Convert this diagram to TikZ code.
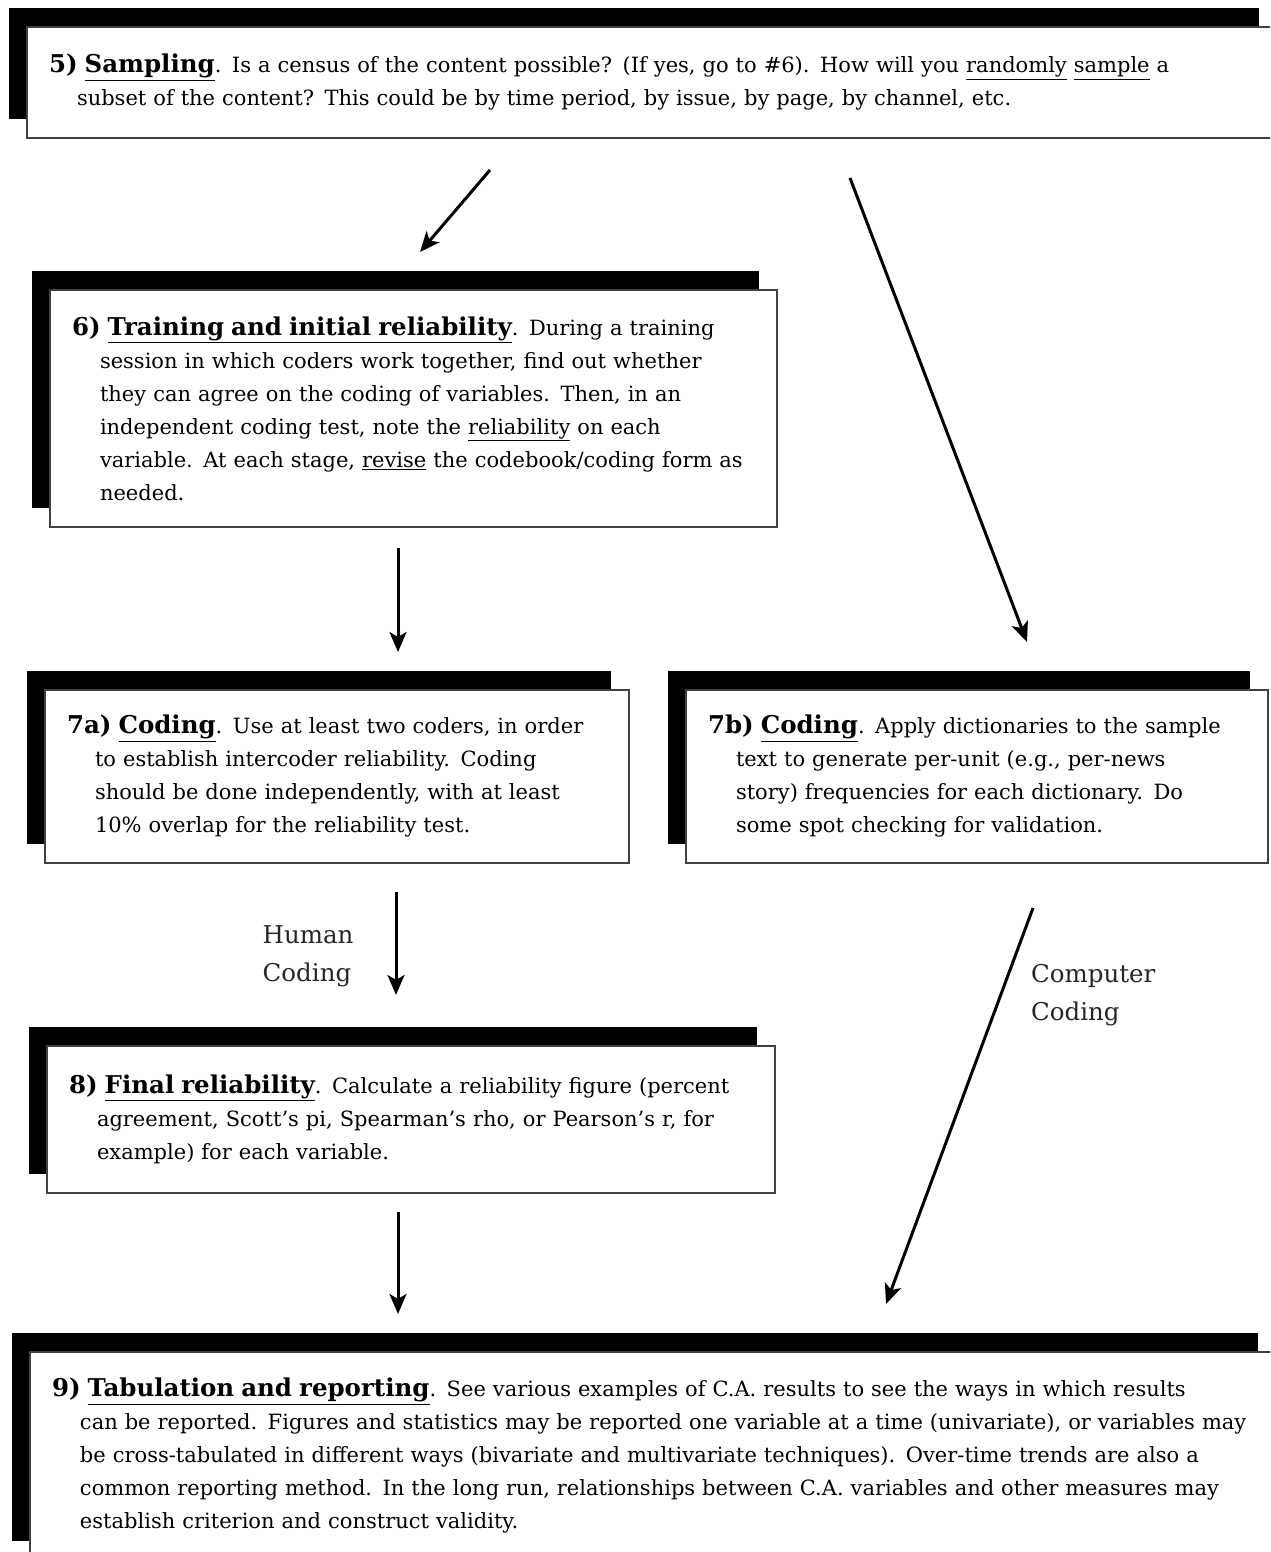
\documentclass[tikz,border=0pt]{standalone}
\usepackage{fontspec}
\setmainfont{DejaVu Serif}
\usetikzlibrary{arrows.meta,shadows}

\newcommand{\steptitle}[2]{{\fontsize{24.5}{33}\selectfont\bfseries #1 \underline{#2}}}
\newcommand{\cont}{\hspace*{28pt}}

\begin{document}
\begin{tikzpicture}[x=1pt,y=-1pt,
  stepbox/.style={draw=black!75, line width=1.2pt, fill=white, align=left,
    inner xsep=22pt, inner ysep=0pt, font=\fontsize{21}{33}\selectfont,
    drop shadow={shadow xshift=-18pt, shadow yshift=19pt, fill=black, opacity=1}},
  flow/.style={line width=3pt, -{Stealth[length=20pt,width=17pt,inset=5pt]}},
  lbl/.style={font=\fontsize{24.5}{38}\selectfont, align=left, inner sep=0pt, text=black!85}]
\useasboundingbox (0,0) rectangle (1270,1552);
\clip (0,0) rectangle (1270,1552);

% steps
\node[stepbox, text width=1206pt, minimum height=111pt] (sampling) at (652,82.5)
  {\steptitle{5)}{Sampling}.  Is a census of the content possible?  (If yes, go to \#6).  How will you \underline{randomly} \underline{sample} a\\
   \cont subset of the content?  This could be by time period, by issue, by page, by channel, etc.};

\node[stepbox, text width=683pt, minimum height=237pt] (training) at (413.5,408.5)
  {\steptitle{6)}{Training and initial reliability}.  During a training\\
   \cont session in which coders work together, find out whether\\
   \cont they can agree on the coding of variables.  Then, in an\\
   \cont independent coding test, note the \underline{reliability} on each\\
   \cont variable.  At each stage, \underline{revise} the codebook/coding form as\\
   \cont needed.};

\node[stepbox, text width=540pt, minimum height=173pt] (humancoding) at (337,776.5)
  {\steptitle{7a)}{Coding}.  Use at least two coders, in order\\
   \cont to establish intercoder reliability.  Coding\\
   \cont should be done independently, with at least\\
   \cont 10\% overlap for the reliability test.};

\node[stepbox, text width=538pt, minimum height=173pt] (computercoding) at (977,776.5)
  {\steptitle{7b)}{Coding}. Apply dictionaries to the sample\\
   \cont text to generate per-unit (e.g., per-news\\
   \cont story) frequencies for each dictionary.  Do\\
   \cont some spot checking for validation.};

\node[stepbox, text width=684pt, minimum height=147pt] (finalrel) at (411,1119.5)
  {\steptitle{8)}{Final reliability}.  Calculate a reliability figure (percent\\
   \cont agreement, Scott’s pi, Spearman’s rho, or Pearson’s r, for\\
   \cont example) for each variable.};

\node[stepbox, text width=1202pt, minimum height=208pt] (tabulation) at (653,1456)
  {\steptitle{9)}{Tabulation and reporting}.  See various examples of C.A. results to see the ways in which results\\
   \cont can be reported.  Figures and statistics may be reported one variable at a time (univariate), or variables may\\
   \cont be cross-tabulated in different ways (bivariate and multivariate techniques).  Over-time trends are also a\\
   \cont common reporting method.  In the long run, relationships between C.A. variables and other measures may\\
   \cont establish criterion and construct validity.};

% arrow ends
\coordinate (s1) at (490,170);
\coordinate (t1) at (420,252);
\coordinate (s2) at (850,178);
\coordinate (t2) at (1027,642);
\coordinate (s3) at (398,548);
\coordinate (t3) at (398,652);
\coordinate (s4) at (396,892);
\coordinate (t4) at (396,995);
\coordinate (s5) at (1033,908);
\coordinate (t5) at (886,1304);
\coordinate (s6) at (398,1212);
\coordinate (t6) at (398,1314);

\draw[flow] (s1) -- (t1);
\draw[flow] (s2) -- (t2);
\draw[flow] (s3) -- (t3);
\draw[flow] (s4) -- node[lbl, pos=0.62, anchor=east, xshift=-41pt] (humanlbl) {Human\\Coding} (t4);
\draw[flow] (s5) -- node[lbl, pos=0.22, anchor=west, xshift=29pt] (computerlbl) {Computer\\Coding} (t5);
\draw[flow] (s6) -- (t6);
\end{tikzpicture}
\end{document}
